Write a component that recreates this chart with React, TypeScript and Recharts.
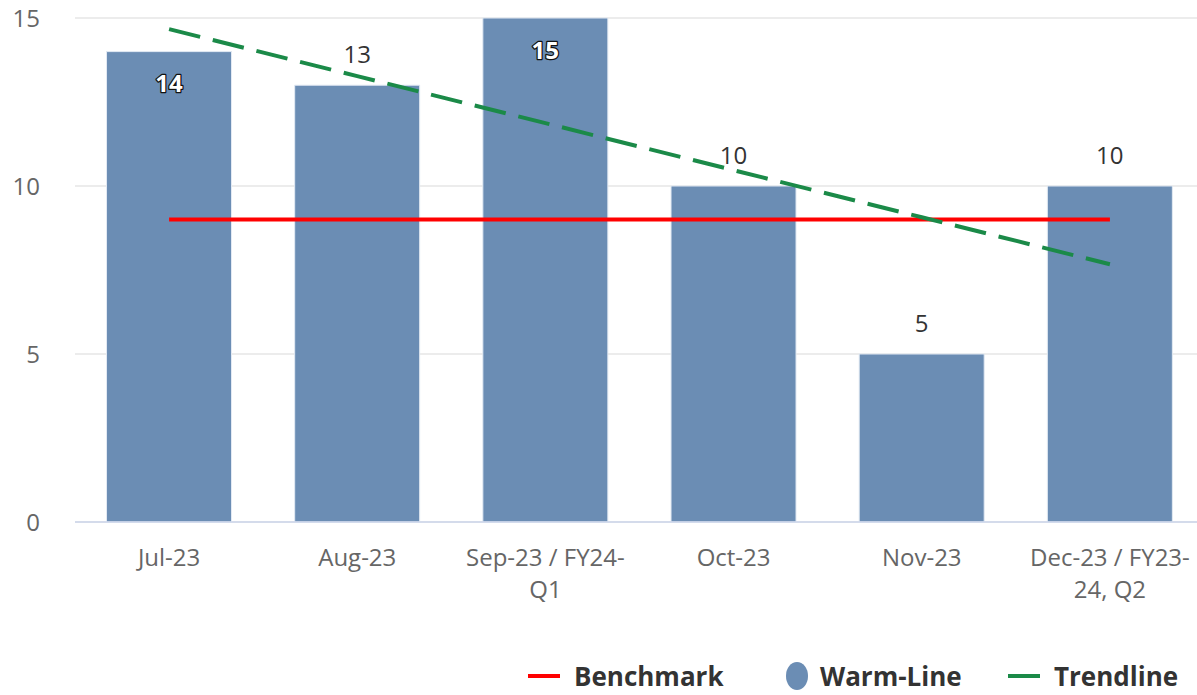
import React from 'react';
import { ComposedChart, Bar, Line, XAxis, YAxis, CartesianGrid, Legend, LabelList } from 'recharts';

const categories = ['Jul-23', 'Aug-23', 'Sep-23 / FY24-Q1', 'Oct-23', 'Nov-23', 'Dec-23 / FY23-24, Q2'];
const tickLabels = [['Jul-23'], ['Aug-23'], ['Sep-23 / FY24-', 'Q1'], ['Oct-23'], ['Nov-23'], ['Dec-23 / FY23-', '24, Q2']];
const warmLine = [14, 13, 15, 10, 5, 10];
const benchmark = [9, 9, 9, 9, 9, 9];
const trendline = [14.67, 13.27, 11.87, 10.47, 9.07, 7.67];
const yTicks = [0, 5, 10, 15];

const data = categories.map((c, i) => ({
  name: c,
  warm: warmLine[i],
  bench: benchmark[i],
  trend: trendline[i],
}));

const FONT = "'Open Sans', sans-serif";
const BAR_COLOR = '#6b8db4';
const RED = '#ff0000';
const GREEN = '#1b8a48';

const XTick = (props: any) => {
  const { x, y, payload } = props;
  const idx = categories.indexOf(payload.value);
  const lines = idx >= 0 ? tickLabels[idx] : [String(payload.value)];
  return (
    <text x={x} y={y} textAnchor="middle" fill="#666666" fontSize={24} fontFamily={FONT}>
      {lines.map((l, i) => (
        <tspan key={i} x={x} dy={i === 0 ? 44 : 32}>
          {l}
        </tspan>
      ))}
    </text>
  );
};

const BarLabel = (props: any) => {
  const { x, y, width, value } = props;
  const cx = x + width / 2;
  const inside = y - 31 - 12 < 18;
  if (inside) {
    return (
      <text
        x={cx}
        y={y + 32}
        dy="0.36em"
        textAnchor="middle"
        fontSize={24}
        fontWeight="bold"
        fontFamily={FONT}
        fill="#ffffff"
        stroke="#111111"
        strokeWidth={2.5}
        strokeLinejoin="round"
        paintOrder="stroke"
      >
        {value}
      </text>
    );
  }
  return (
    <text x={cx} y={y - 31} dy="0.36em" textAnchor="middle" fontSize={24} fontFamily={FONT} fill="#333333">
      {value}
    </text>
  );
};

const legendText: React.CSSProperties = {
  fontFamily: FONT,
  fontWeight: 'bold',
  fontSize: 26,
  color: '#333333',
  lineHeight: '32px',
  whiteSpace: 'nowrap',
};

const renderLegend = () => (
  <div style={{ position: 'relative', width: 1197, height: 32 }}>
    <div style={{ position: 'absolute', left: 528, top: 0, height: 32, display: 'flex', alignItems: 'center' }}>
      <svg width={32} height={10}>
        <line x1={0} y1={5} x2={32} y2={5} stroke={RED} strokeWidth={4} />
      </svg>
      <span style={{ ...legendText, marginLeft: 14 }}>Benchmark</span>
    </div>
    <div style={{ position: 'absolute', left: 785, top: 0, height: 32, display: 'flex', alignItems: 'center' }}>
      <svg width={24} height={30}>
        <ellipse cx={12} cy={15} rx={11} ry={14} fill={BAR_COLOR} />
      </svg>
      <span style={{ ...legendText, marginLeft: 11 }}>Warm-Line</span>
    </div>
    <div style={{ position: 'absolute', left: 1008, top: 0, height: 32, display: 'flex', alignItems: 'center' }}>
      <svg width={32} height={10}>
        <line x1={0} y1={5} x2={32} y2={5} stroke={GREEN} strokeWidth={4} />
      </svg>
      <span style={{ ...legendText, marginLeft: 14 }}>Trendline</span>
    </div>
  </div>
);

export default function App() {
  return (
    <div
      style={{
        position: 'absolute',
        left: 0,
        top: 0,
        width: 1197,
        height: 695,
        overflow: 'hidden',
        background: '#ffffff',
      }}
    >
      <ComposedChart
        width={1204}
        height={695}
        data={data}
        margin={{ top: 18, right: 0, bottom: 113, left: 0 }}
        barCategoryGap="16.75%"
        style={{ fontFamily: FONT }}
      >
        <CartesianGrid vertical={false} stroke="#e6e6e6" strokeWidth={1.5} />
        <XAxis
          dataKey="name"
          interval={0}
          tickLine={false}
          tickSize={0}
          tickMargin={0}
          height={60}
          axisLine={{ stroke: '#ccd6eb', strokeWidth: 1.5 }}
          tick={<XTick />}
        />
        <YAxis
          domain={[0, 15]}
          ticks={yTicks}
          width={75}
          tickLine={false}
          axisLine={false}
          tickSize={0}
          tickMargin={35}
          tick={{ fill: '#666666', fontSize: 24, fontFamily: FONT }}
        />
        <Bar dataKey="warm" name="Warm-Line" fill={BAR_COLOR} stroke="#e3eaf3" strokeWidth={1} isAnimationActive={false}>
          <LabelList dataKey="warm" content={<BarLabel />} />
        </Bar>
        <Line
          dataKey="bench"
          name="Benchmark"
          stroke={RED}
          strokeWidth={4}
          dot={false}
          activeDot={false}
          isAnimationActive={false}
        />
        <Line
          dataKey="trend"
          name="Trendline"
          stroke={GREEN}
          strokeWidth={4}
          strokeDasharray="32 13"
          dot={false}
          activeDot={false}
          isAnimationActive={false}
        />
        <Legend
          layout="horizontal"
          verticalAlign="middle"
          align="center"
          wrapperStyle={{ left: 0, top: 660, width: 1197, height: 32 }}
          content={renderLegend}
        />
      </ComposedChart>
    </div>
  );
}
